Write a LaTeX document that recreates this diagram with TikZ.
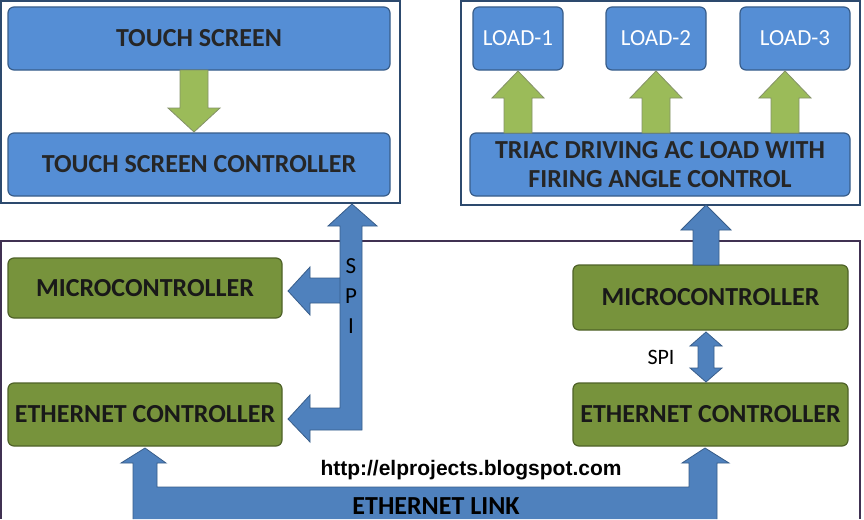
\documentclass[tikz,border=0pt]{standalone}
\usepackage{fontspec}
\setmainfont{Carlito}
\newfontfamily\urlf{Liberation Sans}
\definecolor{bbox}{HTML}{558ED5}
\definecolor{bline}{HTML}{385D8A}
\definecolor{gbox}{HTML}{77933C}
\definecolor{gline}{HTML}{4F6228}
\definecolor{arr}{HTML}{4F81BD}
\definecolor{garr}{HTML}{9BBB59}
\definecolor{frame}{HTML}{403152}
\begin{document}
\begin{tikzpicture}[x=1pt,y=-1pt,
 bb/.style={draw=bline,line width=1.2pt,fill=bbox,rounded corners=6pt,font=\bfseries\fontsize{26}{29}\selectfont,text=black!85,align=center,inner sep=0pt},
 gb/.style={draw=gline,line width=1.2pt,fill=gbox,rounded corners=6pt,font=\bfseries\fontsize{26}{29}\selectfont,text=black!90,inner sep=0pt},
 ld/.style={bb,font=\fontsize{23}{26}\selectfont,text=white},
 ba/.style={fill=arr,draw=bline,line width=0.8pt,line join=miter},
 ga/.style={fill=garr,draw=gline!70,line width=0.8pt}]
\useasboundingbox (0,0) rectangle (864,519);
\fill[white] (0,0) rectangle (864,519);
% frames
\draw[bline!80!black,line width=1.2pt] (1,1) rectangle (400,203);
\draw[bline!80!black,line width=1.2pt] (461,1) rectangle (860,205);
\draw[frame,line width=1.5pt] (0,241) -- (860,241) -- (860,519);
\draw[frame,line width=1.5pt] (1,241) -- (1,519);
% boxes
\node[bb,minimum width=382pt,minimum height=63pt] (ts) at (199,38.5) {TOUCH SCREEN};
\node[bb,minimum width=382pt,minimum height=63pt] (tsc) at (199,164.5) {TOUCH SCREEN CONTROLLER};
\node[ld,minimum width=90pt,minimum height=63pt] (l1) at (518,38.5) {LOAD-1};
\node[ld,minimum width=100pt,minimum height=63pt] (l2) at (656,38.5) {LOAD-2};
\node[ld,minimum width=110pt,minimum height=63pt] (l3) at (795,38.5) {LOAD-3};
\node[bb,minimum width=380pt,minimum height=63pt] (tr) at (660,164.5) {TRIAC DRIVING AC LOAD WITH\\FIRING ANGLE CONTROL};
\node[gb,minimum width=274pt,minimum height=60pt] (mc1) at (145,288) {MICROCONTROLLER};
\node[gb,minimum width=274pt,minimum height=63pt] (ec1) at (145,414.5) {ETHERNET CONTROLLER};
\node[gb,minimum width=275pt,minimum height=65pt] (mc2) at (710.5,297.5) {MICROCONTROLLER};
\node[gb,minimum width=275pt,minimum height=63pt] (ec2) at (710.5,414.5) {ETHERNET CONTROLLER};
% green arrows
\draw[ga] (180,70) -- (208,70) -- (208,108) -- (220,108) -- (194,132) -- (168,108) -- (180,108) -- cycle;
\foreach \c in {518,656,785}{
 \draw[ga] (\c-14,133) -- (\c-14,98) -- (\c-26,98) -- (\c,71) -- (\c+26,98) -- (\c+14,98) -- (\c+14,133) -- cycle;}
% SPI bus left
\draw[ba] (362,430) -- (362,226) -- (377,226) -- (352,204) -- (328,226) -- (340,226) -- (340,303)
 -- (310,303) -- (310,315) -- (288,291) -- (310,267) -- (310,278) -- (340,278) -- (340,408)
 -- (310,408) -- (310,395) -- (288,419) -- (310,442) -- (310,430) -- cycle;
\node[font=\fontsize{23}{26}\selectfont] (s1) at (351,266) {S};
\node[font=\fontsize{23}{26}\selectfont] (s2) at (351,296) {P};
\node[font=\fontsize{23}{26}\selectfont] (s3) at (351,326) {I};
% right up arrow
\draw[ba] (693,265) -- (693,230) -- (681,230) -- (706,205) -- (731,230) -- (719,230) -- (719,265) -- cycle;
% right SPI double arrow
\draw[ba] (698,346) -- (698,368) -- (690,368) -- (706,382) -- (722,368) -- (714,368) -- (714,346) -- (722,346) -- (706,332) -- (690,346) -- cycle;
\node[font=\fontsize{22}{25}\selectfont] (spi) at (661,357) {SPI};
% ethernet link
\draw[ba] (133,519) -- (133,463) -- (121,463) -- (145,448) -- (166,463) -- (157,463) -- (157,487)
 -- (689,487) -- (689,463) -- (682,463) -- (705,448) -- (729,463) -- (717,463) -- (717,519);
\node[font=\bfseries\fontsize{26}{29}\selectfont] (el) at (436,506) {ETHERNET LINK};
\node[font=\urlf\bfseries\fontsize{21}{24}\selectfont] (url) at (471,470) {http://elprojects.blogspot.com};
\end{tikzpicture}
\end{document}
